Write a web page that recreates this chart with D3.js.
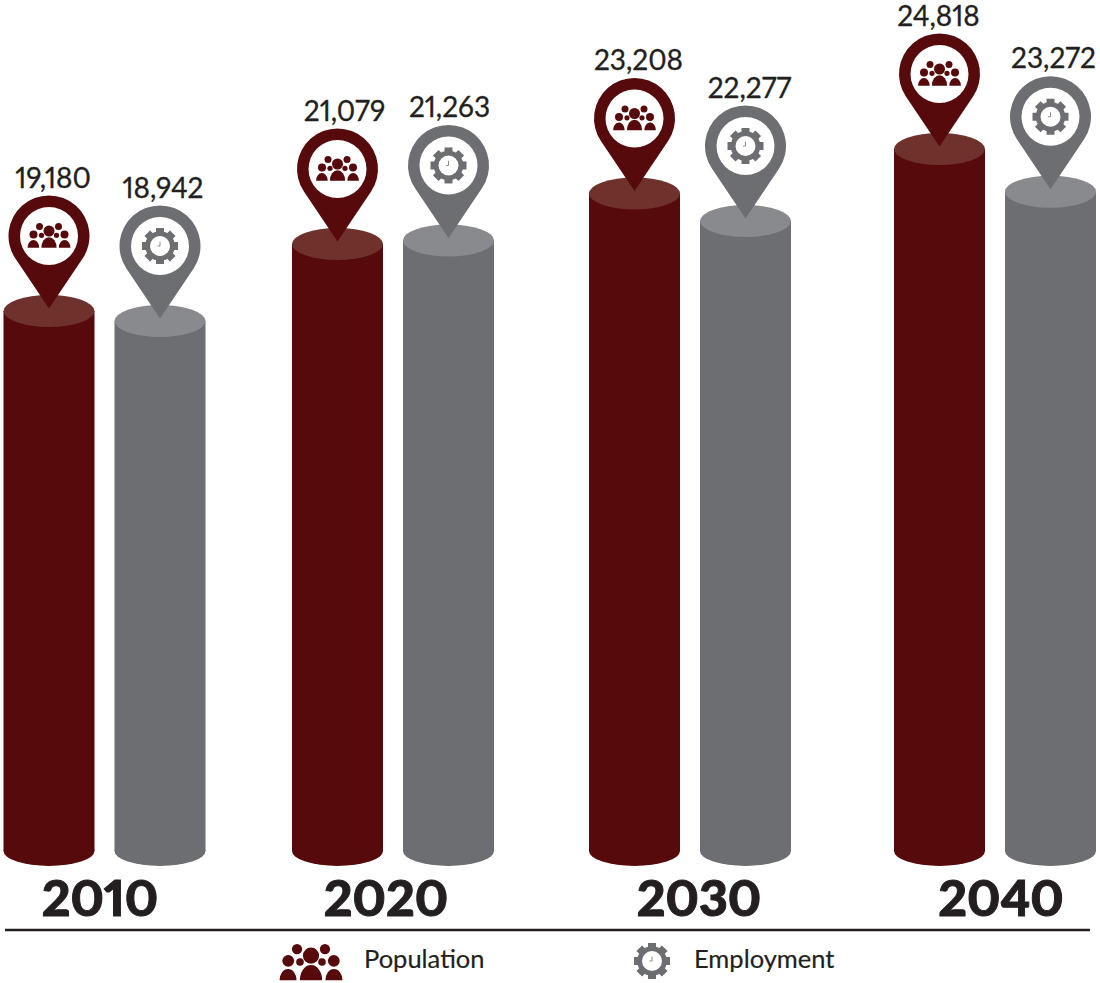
<!DOCTYPE html>
<html>
<head>
<meta charset="utf-8">
<script src="https://cdn.jsdelivr.net/npm/d3@7"></script>
<style>
  html, body { margin: 0; padding: 0; background: #fff; }
  svg { display: block; }
  text { font-family: Lato, "Open Sans", sans-serif; fill: #231f20; font-variant-numeric: proportional-nums; }
  .value { stroke: #231f20; stroke-width: 0.3; }
  .key { stroke: #231f20; stroke-width: 0.2; }
  .year { stroke: #231f20; stroke-width: 1; }
</style>
</head>
<body>
<svg id="chart" width="1100" height="983"></svg>
<script>
// Values per decade
const years = ["2010", "2020", "2030", "2040"];
const population = [19180, 21079, 23208, 24818];
const employment = [18942, 21263, 22277, 23272];
const seriesNames = ["Population", "Employment"];

// Layout
const groupLeft = [3.5, 292, 589, 894];
const barWidth = 91, barGap = 20, capRy = 16, baseY = 851;
const yearCentre = [100, 386, 699, 1001];
const popLabelNudge = [4, 7, 4, -1];
const empLabelNudge = [3, 1, 4, 3];

const colors = {
  Population: { body: "#560a0c", cap: "#6f312c" },
  Employment: { body: "#6d6e71", cap: "#898a8d" }
};

const svg = d3.select("#chart");

// Group position and height scales; the height axis is stepped, as the columns are drawn to a pictorial scale
const xGroup = d3.scaleOrdinal().domain(years).range(groupLeft);
const y = d3.scaleLinear()
  .domain([18942, 19180, 21079, 22277, 23208, 24818])
  .range([321, 311, 244, 221, 193.5, 149]);

const pinRadius = 40.5, pinTip = 72.5, pinHole = 29, tipLift = 2.5;

function pinPath() {
  const s = pinRadius / pinTip;
  const ty = pinRadius * s;
  const tx = pinRadius * Math.sqrt(1 - s * s);
  return `M0,${pinTip}L${tx},${ty}A${pinRadius},${pinRadius} 0 1 0 ${-tx},${ty}Z`;
}

function dome(x0, x1, top, bottom) {
  const rx = (x1 - x0) / 2;
  const ry = bottom - top;
  return `M${x0},${bottom}A${rx},${ry} 0 0 1 ${x1},${bottom}Z`;
}

// Group-of-people glyph centred on the origin
function drawPeople(g, color) {
  const heads = [
    [0, -5, 5.5], [-9.5, -9.5, 3.5], [9.5, -9.5, 3.5],
    [-15.5, -1.5, 4], [15.5, -1.5, 4], [-7.5, -0.7, 2.6], [7.5, -0.7, 2.6]
  ];
  g.selectAll("circle").data(heads).join("circle")
    .attr("cx", d => d[0]).attr("cy", d => d[1]).attr("r", d => d[2]).attr("fill", color);
  const bodies = [dome(-7.6, 7.6, 1.3, 11.7), dome(-21.4, -9.8, 4, 11.7), dome(9.8, 21.4, 4, 11.7)];
  g.selectAll("path").data(bodies).join("path").attr("d", d => d).attr("fill", color);
}

// Cog with a clock face, centred on the origin
function drawGear(g, color) {
  g.selectAll("rect").data(d3.range(4)).join("rect")
    .attr("x", -4).attr("y", -18).attr("width", 8).attr("height", 36)
    .attr("fill", color)
    .attr("transform", d => `rotate(${d * 45})`);
  g.append("circle").attr("r", 14.8).attr("fill", color);
  g.append("circle").attr("r", 10).attr("fill", "#fff");
  g.append("path").attr("d", "M0,-4.5V0H-2.5").attr("fill", "none")
    .attr("stroke", color).attr("stroke-width", 0.8);
}

function drawColumn(group, value, name, left, nudge) {
  const c = colors[name];
  const top = y(value);
  const cx = left + barWidth / 2;
  const g = group.append("g").attr("class", "column " + name.toLowerCase());

  g.append("rect").attr("x", left).attr("y", top)
    .attr("width", barWidth).attr("height", baseY - top).attr("fill", c.body);
  g.append("ellipse").attr("cx", cx).attr("cy", baseY)
    .attr("rx", barWidth / 2).attr("ry", capRy - 1).attr("fill", c.body);
  g.append("ellipse").attr("cx", cx).attr("cy", top)
    .attr("rx", barWidth / 2).attr("ry", capRy).attr("fill", c.cap);

  const pinY = top - tipLift - pinTip;
  const pin = g.append("g").attr("transform", `translate(${cx},${pinY})`);
  pin.append("path").attr("d", pinPath()).attr("fill", c.body);
  pin.append("circle").attr("r", pinHole).attr("fill", "#fff");
  const glyph = pin.append("g");
  if (name === "Population") drawPeople(glyph, c.body); else drawGear(glyph, c.body);

  g.append("text").attr("class", "value")
    .attr("x", cx + nudge).attr("y", pinY - pinRadius - 8)
    .attr("text-anchor", "middle").attr("font-size", 28)
    .text(d3.format(",")(value));
}

const plot = svg.append("g");
years.forEach((yr, i) => {
  const group = plot.append("g").attr("class", "year-" + yr);
  const left = xGroup(yr);
  drawColumn(group, population[i], "Population", left, popLabelNudge[i]);
  drawColumn(group, employment[i], "Employment", left + barWidth + barGap, empLabelNudge[i]);
  group.append("text").attr("class", "year")
    .attr("x", yearCentre[i]).attr("y", 916)
    .attr("text-anchor", "middle").attr("font-size", 50).attr("font-weight", 900)
    .text(yr);
});

// Rule under the year labels
svg.append("line").attr("x1", 5).attr("x2", 1090).attr("y1", 930).attr("y2", 930)
  .attr("stroke", "#231f20").attr("stroke-width", 2.5);

// Legend
const legend = svg.append("g");
const peopleKey = legend.append("g").attr("transform", "translate(311,963) scale(1.47)");
drawPeople(peopleKey, colors.Population.body);
const gearKey = legend.append("g").attr("transform", "translate(652,961)");
drawGear(gearKey, colors.Employment.body);
legend.selectAll("text.key").data(seriesNames).join("text")
  .attr("class", "key")
  .attr("x", (d, i) => [364, 694][i]).attr("y", 968)
  .attr("font-size", 25.5)
  .text(d => d);
</script>
</body>
</html>
